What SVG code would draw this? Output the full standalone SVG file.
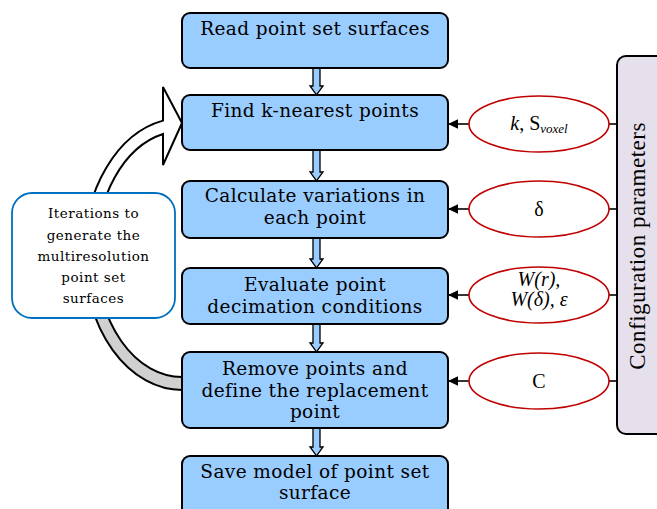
<svg xmlns="http://www.w3.org/2000/svg" width="657" height="509" viewBox="0 0 657 509">
<defs>
<style>
.box{fill:#99ccff;stroke:#000;stroke-width:2}
.t{font-size:18.5px;letter-spacing:0.4px;fill:#000;text-anchor:middle}
.st{font-size:13.5px;letter-spacing:0.5px;fill:#000;text-anchor:middle}
.ell{fill:#fff;stroke:#c00000;stroke-width:1.6}
.et{font-size:20px;fill:#000;text-anchor:middle}
.ln{stroke:#000;stroke-width:1.6;fill:none}
.ha{fill:#99ccff;stroke:#000;stroke-width:1.3}
</style>
<marker id="ah" markerWidth="10" markerHeight="10" viewBox="0 0 17 16" refX="17" refY="8" orient="auto" markerUnits="userSpaceOnUse">
<path d="M0,0 L17,8 L0,16 Z" fill="#000"/>
</marker>
</defs>

<g id="connectors">
<path id="loop-upper" d="M84,254 A98,136 0 0 1 163,120.6 L163,87 L182,123 L163,165 L163,134 A86,123 0 0 0 96,254 Z" fill="#fff" stroke="#000" stroke-width="2"/>
<path id="loop-lower" d="M84,254 A98,136 0 0 0 182,390 L182,377 A86,123 0 0 1 96,254 Z" fill="#d0d0d0" stroke="#000" stroke-width="2"/>
<path class="ha" d="M313,68 L320,68 L320,86 L323,86 L316.5,95 L310,86 L313,86 Z"/>
<path class="ha" d="M313,150 L320,150 L320,172 L323,172 L316.5,181 L310,172 L313,172 Z"/>
<path class="ha" d="M313,238 L320,238 L320,259 L323,259 L316.5,268 L310,259 L313,259 Z"/>
<path class="ha" d="M313,324 L320,324 L320,343 L323,343 L316.5,352 L310,343 L313,343 Z"/>
<path class="ha" d="M313,428 L320,428 L320,447 L323,447 L316.5,456 L310,447 L313,447 Z"/>
<line class="ln" x1="469" y1="124" x2="448" y2="124" marker-end="url(#ah)"/>
<line class="ln" x1="469" y1="209" x2="448" y2="209" marker-end="url(#ah)"/>
<line class="ln" x1="469" y1="295" x2="448" y2="295" marker-end="url(#ah)"/>
<line class="ln" x1="469" y1="381" x2="448" y2="381" marker-end="url(#ah)"/>
<line class="ln" x1="609" y1="124" x2="617" y2="124"/>
<line class="ln" x1="609" y1="209" x2="617" y2="209"/>
<line class="ln" x1="609" y1="295" x2="617" y2="295"/>
<line class="ln" x1="609" y1="381" x2="617" y2="381"/>
</g>

<g font-family="DejaVu Serif, serif">
<g id="n1"><rect class="box" x="182" y="13" width="266" height="55" rx="8"/><text class="t" x="315" y="35">Read point set surfaces</text></g>
<g id="n2"><rect class="box" x="182" y="95" width="266" height="55" rx="8"/><text class="t" x="315" y="117">Find k-nearest points</text></g>
<g id="n3"><rect class="box" x="182" y="181" width="266" height="57" rx="8"/><text class="t" x="315" y="202">Calculate variations in</text><text class="t" x="315" y="224">each point</text></g>
<g id="n4"><rect class="box" x="182" y="268" width="266" height="56" rx="8"/><text class="t" x="315" y="291">Evaluate point</text><text class="t" x="315" y="313">decimation conditions</text></g>
<g id="n5"><rect class="box" x="182" y="352" width="266" height="76" rx="8"/><text class="t" x="315" y="375">Remove points and</text><text class="t" x="315" y="397">define the replacement</text><text class="t" x="315" y="418">point</text></g>
<g id="n6"><rect class="box" x="182" y="456" width="266" height="64" rx="8"/><text class="t" x="315" y="478">Save model of point set</text><text class="t" x="315" y="499">surface</text></g>

<g id="iter"><rect x="12" y="193" width="163" height="125" rx="20" fill="#fff" stroke="#0070c0" stroke-width="1.8"/>
<text class="st" x="93.5" y="218">Iterations to</text><text class="st" x="93.5" y="240">generate the</text><text class="st" x="93.5" y="261">multiresolution</text><text class="st" x="93.5" y="282">point set</text><text class="st" x="93.5" y="303">surfaces</text></g>
</g>

<g font-family="Liberation Serif, serif">
<g id="e1"><ellipse class="ell" cx="539" cy="124" rx="70" ry="28"/><text class="et" x="539" y="130"><tspan font-style="italic">k</tspan>, S<tspan font-size="13" font-style="italic" dy="3">voxel</tspan></text></g>
<g id="e2"><ellipse class="ell" cx="539" cy="209" rx="70" ry="28"/><text class="et" x="539" y="216">δ</text></g>
<g id="e3"><ellipse class="ell" cx="539" cy="295" rx="70" ry="28"/><text class="et" x="539" y="286" font-size="17" font-style="italic">W(r),</text><text class="et" x="539" y="306" font-size="17" font-style="italic">W(δ), ε</text></g>
<g id="e4"><ellipse class="ell" cx="539" cy="381" rx="70" ry="28"/><text class="et" x="539" y="388">C</text></g>

<g id="config"><rect x="617" y="56" width="60" height="378" rx="9" fill="#e6e0ec" stroke="#000" stroke-width="2"/>
<text font-size="23" letter-spacing="0.5" text-anchor="middle" transform="translate(645,246) rotate(-90)">Configuration parameters</text></g>
</g>
</svg>
